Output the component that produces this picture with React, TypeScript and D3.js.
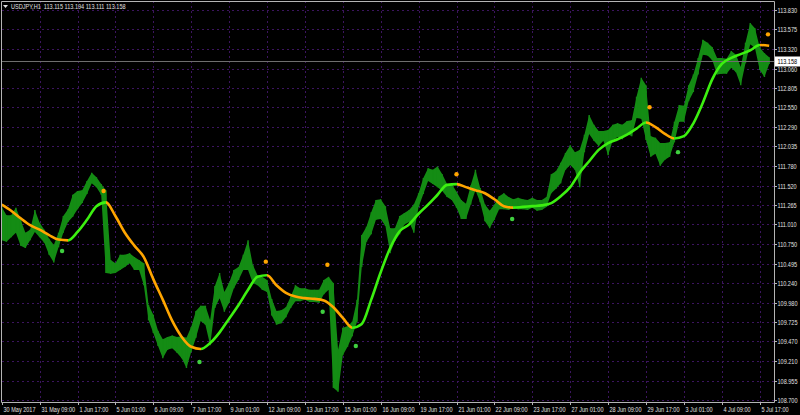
import React, { useRef, useEffect } from 'react';
import * as d3 from 'd3';

const W = 800;
const H = 415;

const header = 'USDJPY,H1  113.115 113.194 113.111 113.158';
const lastPrice = 113.158;

const priceTicks = [
  113.83, 113.575, 113.32, 113.06, 112.805, 112.55, 112.29, 112.035, 111.78, 111.52,
  111.265, 111.01, 110.75, 110.495, 110.24, 109.98, 109.725, 109.47, 109.21, 108.955, 108.7,
];

const timeLabels = [
  '30 May 2017', '31 May 09:00', '1 Jun 17:00', '5 Jun 01:00', '6 Jun 09:00', '7 Jun 17:00',
  '9 Jun 01:00', '12 Jun 09:00', '13 Jun 17:00', '15 Jun 01:00', '16 Jun 09:00', '19 Jun 17:00',
  '21 Jun 01:00', '22 Jun 09:00', '23 Jun 17:00', '27 Jun 01:00', '28 Jun 09:00', '29 Jun 17:00',
  '3 Jul 01:00', '4 Jul 09:00', '5 Jul 17:00',
];
const TICK_STEP = 32; // H1 bars between time labels

// price range sampled every 4 H1 bars
const SAMPLE_STEP = 4;
const barHigh = [
  111.24, 111.13, 111.13, 111.23, 111.07, 110.90, 110.94, 111.20, 111.03, 110.94,
  110.82, 110.74, 110.90, 111.12, 111.21, 111.40, 111.45, 111.46, 111.58, 111.69,
  111.63, 111.54, 111.46, 110.54, 110.50, 110.61, 110.61, 110.63, 110.58, 110.54,
  110.50, 109.95, 109.82, 109.61, 109.50, 109.53, 109.55, 109.53, 109.54, 109.52,
  109.66, 109.87, 109.94, 109.94, 109.75, 110.20, 110.37, 110.12, 110.24, 110.41,
  110.45, 110.61, 110.80, 110.48, 110.34, 110.32, 110.28, 110.03, 109.87, 109.88,
  109.92, 110.06, 110.21, 110.17, 110.17, 110.15, 110.15, 110.15, 110.28, 110.32,
  110.24, 109.36, 109.65, 109.67, 109.73, 110.02, 110.87, 110.98, 111.17, 111.33,
  111.34, 111.25, 110.96, 110.96, 111.12, 111.16, 111.20, 111.27, 111.42, 111.62,
  111.75, 111.73, 111.77, 111.67, 111.54, 111.54, 111.44, 111.33, 111.28, 111.52,
  111.73, 111.49, 111.27, 111.19, 111.27, 111.38, 111.42, 111.37, 111.34, 111.36,
  111.34, 111.33, 111.36, 111.33, 111.33, 111.37, 111.67, 111.71, 111.82, 111.95,
  112.05, 111.96, 111.99, 112.19, 112.45, 112.32, 112.24, 112.24, 112.25, 112.32,
  112.34, 112.32, 112.37, 112.38, 112.69, 112.94, 112.84, 112.17, 112.15, 112.08,
  112.08, 112.09, 112.36, 112.58, 112.57, 112.84, 112.98, 113.20, 113.44, 113.40,
  113.34, 113.20, 113.20, 113.19, 113.29, 113.24, 113.08, 113.40, 113.66, 113.59,
  113.34, 113.26, 113.21,
];
const barLow = [
  110.80, 110.78, 110.84, 110.90, 110.73, 110.70, 110.80, 110.91, 110.84, 110.77,
  110.61, 110.51, 110.71, 110.90, 111.04, 111.11, 111.21, 111.29, 111.41, 111.55,
  111.50, 111.40, 110.37, 110.36, 110.37, 110.41, 110.45, 110.50, 110.41, 110.41,
  110.21, 109.75, 109.58, 109.41, 109.25, 109.36, 109.38, 109.32, 109.25, 109.12,
  109.33, 109.52, 109.74, 109.69, 109.42, 109.91, 110.04, 109.86, 109.98, 110.17,
  110.28, 110.41, 110.41, 110.24, 110.21, 110.15, 110.12, 109.81, 109.69, 109.71,
  109.79, 109.91, 110.00, 110.00, 110.02, 109.99, 109.99, 109.98, 110.09, 110.15,
  108.86, 108.81, 109.29, 109.40, 109.54, 109.73, 110.45, 110.78, 110.88, 111.07,
  111.08, 110.99, 110.63, 110.79, 110.88, 111.01, 111.04, 110.90, 111.24, 111.41,
  111.58, 111.54, 111.50, 111.45, 111.37, 111.33, 111.23, 111.08, 111.08, 111.27,
  111.46, 111.30, 111.05, 110.96, 111.07, 111.21, 111.21, 111.20, 111.23, 111.21,
  111.21, 111.20, 111.23, 111.19, 111.20, 111.24, 111.42, 111.48, 111.55, 111.73,
  111.79, 111.73, 111.50, 111.96, 112.20, 112.11, 112.04, 112.11, 111.92, 112.12,
  112.16, 112.13, 112.20, 112.17, 112.41, 112.40, 112.12, 111.90, 111.94, 111.78,
  111.86, 111.90, 112.09, 112.36, 112.36, 112.63, 112.75, 112.98, 113.24, 113.23,
  113.17, 112.98, 112.99, 112.99, 113.07, 113.01, 112.84, 113.13, 113.38, 113.33,
  113.04, 112.95, 113.12,
];

// smoothed indicator line, every 8 H1 bars
const LINE_STEP = 8;
const smoothLine = [
  111.27, 111.19, 111.09, 111.00, 110.94, 110.87, 110.81, 110.80, 110.91, 111.07,
  111.25, 111.30, 111.12, 110.90, 110.73, 110.58, 110.29, 110.02, 109.74, 109.53,
  109.40, 109.37, 109.45, 109.59, 109.77, 109.95, 110.15, 110.32, 110.34, 110.21,
  110.11, 110.06, 110.04, 110.03, 110.01, 109.92, 109.78, 109.65, 109.70, 110.02,
  110.38, 110.70, 110.92, 111.01, 111.15, 111.27, 111.40, 111.53, 111.54, 111.50,
  111.46, 111.42, 111.34, 111.25, 111.23, 111.24, 111.25, 111.26, 111.29, 111.38,
  111.50, 111.69, 111.84, 111.99, 112.08, 112.13, 112.19, 112.27, 112.35, 112.29,
  112.20, 112.14, 112.17, 112.34, 112.61, 112.92, 113.12, 113.20, 113.25, 113.30,
  113.37, 113.36,
];

// turning-point dots (bar index, price, kind)
const dotBars = [51, 86, 167, 223, 271, 275, 299, 384, 431, 547, 571, 647];
const dotPrices = [110.66, 111.45, 109.20, 110.52, 109.86, 110.48, 109.41, 111.67, 111.08, 112.55, 111.96, 113.51];
const dotKinds = ['low', 'high', 'low', 'high', 'low', 'high', 'low', 'high', 'low', 'high', 'low', 'high'];

const BAR_COLOR = '#148c14';
const UP_COLOR = '#3cf010';
const DOWN_COLOR = '#ffa500';
const GRID_COLOR = '#3c145f';
const TEXT_COLOR = '#e0e0e0';
const FONT = '"Liberation Sans", Arial, sans-serif';
const FONT_SIZE = 7.5;
const SQUEEZE = 0.74; // horizontal condense, the terminal font is narrow

const App = () => {
  const ref = useRef<SVGSVGElement>(null);

  useEffect(() => {
    if (!ref.current) return;
    const svg = d3.select(ref.current);
    svg.selectAll('*').remove();

    const plotRight = 774;
    const plotTop = 1;
    const plotBottom = 402;

    const x = d3.scaleLinear()
      .domain([0, TICK_STEP * (timeLabels.length - 1)])
      .range([1.7, 759.7]);
    const y = d3.scaleLinear().domain([108.7, 113.83]).range([400, 10]);

    const label = (g: any, tx: number, ty: number, s: string, fill = TEXT_COLOR) =>
      g.append('text')
        .attr('transform', `translate(${tx},${ty}) scale(${SQUEEZE},1)`)
        .attr('font-family', FONT)
        .attr('font-size', FONT_SIZE)
        .attr('fill', fill)
        .attr('xml:space', 'preserve')
        .text(s);

    svg.append('rect').attr('width', W).attr('height', H).attr('fill', '#000');

    const defs = svg.append('defs');
    defs.append('clipPath').attr('id', 'plot')
      .append('rect').attr('x', 1.5).attr('y', plotTop).attr('width', plotRight - 1.5).attr('height', plotBottom - plotTop);

    // grid
    const grid = svg.append('g')
      .attr('stroke', GRID_COLOR)
      .attr('stroke-dasharray', '2,3')
      .attr('stroke-width', 1);
    priceTicks.forEach(p => {
      const yy = Math.round(y(p)) + 0.5;
      grid.append('line').attr('x1', 2).attr('x2', plotRight).attr('y1', yy).attr('y2', yy);
    });
    timeLabels.forEach((_, i) => {
      if (i === 0) return;
      const xx = Math.round(x(i * TICK_STEP)) + 0.5;
      grid.append('line').attr('x1', xx).attr('x2', xx).attr('y1', plotTop).attr('y2', plotBottom);
    });

    const plot = svg.append('g').attr('clip-path', 'url(#plot)');

    // price bars
    const area = d3.area<number>()
      .x((_, i) => x(i * SAMPLE_STEP))
      .y0((_, i) => y(barLow[i]))
      .y1(d => y(d));
    plot.append('path').datum(barHigh).attr('fill', BAR_COLOR).attr('d', area);
    plot.append('g').selectAll('line')
      .data(barHigh)
      .enter()
      .append('line')
      .attr('x1', (_, i) => x(i * SAMPLE_STEP))
      .attr('x2', (_, i) => x(i * SAMPLE_STEP))
      .attr('y1', d => y(d))
      .attr('y2', (_, i) => y(barLow[i]))
      .attr('stroke', BAR_COLOR)
      .attr('stroke-width', 1.4);

    // current price line
    const ly = Math.round(y(lastPrice)) + 0.5;
    plot.append('line')
      .attr('x1', 1.7).attr('x2', plotRight)
      .attr('y1', ly).attr('y2', ly)
      .attr('stroke', '#6e6e6e').attr('stroke-width', 1);

    // smoothed line, coloured by direction
    const lx = (i: number) => x(i * LINE_STEP);
    const x0 = lx(0);
    const x1 = lx(smoothLine.length - 1);
    const grad = defs.append('linearGradient')
      .attr('id', 'trend')
      .attr('gradientUnits', 'userSpaceOnUse')
      .attr('x1', x0).attr('x2', x1).attr('y1', 0).attr('y2', 0);
    for (let i = 0; i < smoothLine.length - 1; i++) {
      const c = smoothLine[i + 1] >= smoothLine[i] ? UP_COLOR : DOWN_COLOR;
      grad.append('stop').attr('offset', (lx(i) - x0) / (x1 - x0)).attr('stop-color', c);
      grad.append('stop').attr('offset', (lx(i + 1) - x0) / (x1 - x0)).attr('stop-color', c);
    }
    const line = d3.line<number>()
      .x((_, i) => lx(i))
      .y(d => y(d))
      .curve(d3.curveMonotoneX);
    plot.append('path')
      .datum(smoothLine)
      .attr('fill', 'none')
      .attr('stroke', 'url(#trend)')
      .attr('stroke-width', 2.6)
      .attr('d', line);

    // dots
    plot.append('g').selectAll('circle')
      .data(dotBars)
      .enter()
      .append('circle')
      .attr('cx', d => x(d))
      .attr('cy', (_, i) => y(dotPrices[i]))
      .attr('r', 2.2)
      .attr('fill', (_, i) => (dotKinds[i] === 'high' ? DOWN_COLOR : '#3fcf3f'));

    // frame
    svg.append('path')
      .attr('d', `M1.5,${plotBottom + 0.5}V${plotTop + 0.5}H${plotRight + 0.5}V${plotBottom + 0.5}H1.5`)
      .attr('stroke', '#b4b4b4').attr('fill', 'none');

    // price axis
    const yAxis = svg.append('g');
    priceTicks.forEach(p => {
      const yy = Math.round(y(p)) + 0.5;
      yAxis.append('line').attr('x1', plotRight).attr('x2', plotRight + 3).attr('y1', yy).attr('y2', yy).attr('stroke', '#b4b4b4');
      label(yAxis, 777.5, yy + 2.7, p.toFixed(3));
    });

    // last price tag
    svg.append('rect').attr('x', 775).attr('y', ly - 5).attr('width', 25).attr('height', 10).attr('fill', '#fff');
    label(svg, 777.5, ly + 2.7, lastPrice.toFixed(3), '#000');

    // time axis
    const xAxis = svg.append('g');
    timeLabels.forEach((lab, i) => {
      const xx = Math.round(x(i * TICK_STEP)) + 0.5;
      xAxis.append('line').attr('x1', xx).attr('x2', xx).attr('y1', plotBottom).attr('y2', plotBottom + 3).attr('stroke', '#b4b4b4');
      label(xAxis, xx + 1, 411.5, lab);
    });

    // header
    svg.append('path').attr('d', 'M3,5H8L5.5,8Z').attr('fill', TEXT_COLOR);
    label(svg, 11, 9, header);
  }, []);

  return (
    <svg
      ref={ref}
      width={W}
      height={H}
      style={{ position: 'fixed', left: 0, top: 0, display: 'block' }}
    />
  );
};

export default App;
